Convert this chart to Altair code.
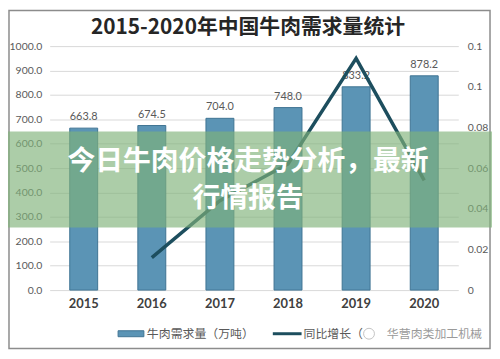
import altair as alt
import pandas as pd

years = ["2015", "2016", "2017", "2018", "2019", "2020"]
demand = [663.8, 674.5, 704.0, 748.0, 833.2, 878.2]
growth = [None, 0.016, 0.044, 0.062, 0.114, 0.054]
left_ticks = [0, 100, 200, 300, 400, 500, 600, 700, 800, 900, 1000]
right_ticks = [0, 0.02, 0.04, 0.06, 0.08, 0.10, 0.12]

title_text = "2015-2020年中国牛肉需求量统计"
banner_line1 = "今日牛肉价格走势分析，最新"
banner_line2 = "行情报告"
legend_bar = "牛肉需求量（万吨）"
legend_line = "同比增长（"
watermark = "华营肉类加工机械"

df = pd.DataFrame({"year": years, "demand": demand, "growth": growth})
one = alt.Data(values=[{}])

CJK = "Noto Sans CJK SC"
NUM = "Lato"
BAR = "#5b94b5"
LINE = "#1d4e5e"

xenc = alt.X("year:N", title=None, sort=years,
             scale=alt.Scale(paddingInner=0.59, paddingOuter=0.295),
             axis=alt.Axis(labelFont=NUM, labelFontWeight="bold", labelFontSize=13,
                           labelColor="#404040", ticks=False, domain=False,
                           labelPadding=8, labelAngle=0, grid=False))

frame = alt.Chart(one).mark_rect(fillOpacity=0, stroke="#8c8c8c", strokeWidth=1.5).encode(
    x=alt.value(-41), x2=alt.value(444), y=alt.value(-36), y2=alt.value(305))

bars = alt.Chart(df).mark_bar(color=BAR, stroke="#3f7393", strokeWidth=1).encode(
    x=xenc,
    y=alt.Y("demand:Q", title=None, scale=alt.Scale(domain=[0, 1000], nice=False),
            axis=alt.Axis(values=left_ticks, format=".1f", labelFont=NUM, labelFontSize=10.5,
                          labelColor="#595959", ticks=False, domain=False, labelPadding=8,
                          gridColor="#d9d9d9", orient="left")))

labels = alt.Chart(df).mark_text(baseline="bottom", dy=-6, font=NUM, fontSize=11,
                                 color="#595959").encode(
    x=xenc,
    y=alt.Y("demand:Q", scale=alt.Scale(domain=[0, 1000], nice=False), axis=None),
    text=alt.Text("demand:Q", format=".1f"))

line = alt.Chart(df).transform_filter("datum.growth != null").mark_line(
    color=LINE, strokeWidth=3.5).encode(
    x=xenc,
    y=alt.Y("growth:Q", title=None, scale=alt.Scale(domain=[0, 0.12], nice=False),
            axis=alt.Axis(values=right_ticks, format="~g", labelFont=NUM, labelFontSize=10.5,
                          labelColor="#595959", ticks=False, domain=False, labelPadding=9,
                          grid=False, orient="right")))

title = alt.Chart(one).mark_text(font=CJK, fontSize=21, color="#262626",
                                 fontWeight="bold", align="center", baseline="middle").encode(
    x=alt.value(200), y=alt.value(-18), text=alt.value(title_text))

banner = alt.Chart(one).mark_rect(fill="#7fb27a", opacity=0.65).encode(
    x=alt.value(-42), x2=alt.value(446), y=alt.value(86), y2=alt.value(183))

b1 = alt.Chart(one).mark_text(font=CJK, fontSize=28, fontWeight="bold", color="white",
                              align="center", baseline="middle").encode(
    x=alt.value(200), y=alt.value(117), text=alt.value(banner_line1))
b2 = alt.Chart(one).mark_text(font=CJK, fontSize=28, fontWeight="bold", color="white",
                              align="center", baseline="middle").encode(
    x=alt.value(200), y=alt.value(154), text=alt.value(banner_line2))

sw_bar = alt.Chart(one).mark_rect(color=BAR, stroke="#3f7393").encode(
    x=alt.value(69), x2=alt.value(95), y=alt.value(287), y2=alt.value(293))
t_bar = alt.Chart(one).mark_text(font=CJK, fontSize=12, color="#595959", align="left",
                                 baseline="middle").encode(
    x=alt.value(98), y=alt.value(290), text=alt.value(legend_bar))
sw_line = alt.Chart(one).mark_rule(color=LINE, strokeWidth=3).encode(
    x=alt.value(225), x2=alt.value(254), y=alt.value(290))
t_line = alt.Chart(one).mark_text(font=CJK, fontSize=12, color="#595959", align="left",
                                  baseline="middle").encode(
    x=alt.value(256), y=alt.value(290), text=alt.value(legend_line))
icon = alt.Chart(one).mark_point(shape="circle", size=120, color="#aaaaaa",
                                 strokeWidth=1).encode(
    x=alt.value(322), y=alt.value(290))
t_wm = alt.Chart(one).mark_text(font=CJK, fontSize=12, color="#9a9a9a", align="left",
                                baseline="middle").encode(
    x=alt.value(340), y=alt.value(290), text=alt.value(watermark))

chart = alt.layer(frame, bars, labels, line, title, banner, b1, b2,
                  sw_bar, t_bar, sw_line, t_line, icon, t_wm).resolve_scale(
    y="independent").properties(
    width=412, height=246,
    autosize=alt.AutoSizeParams(type="none"),
    padding={"left": 42, "top": 37, "right": 34, "bottom": 61},
    background="white").configure_view(stroke=None)

chart.save("out.html", embed_options={"renderer": "svg", "actions": False})
